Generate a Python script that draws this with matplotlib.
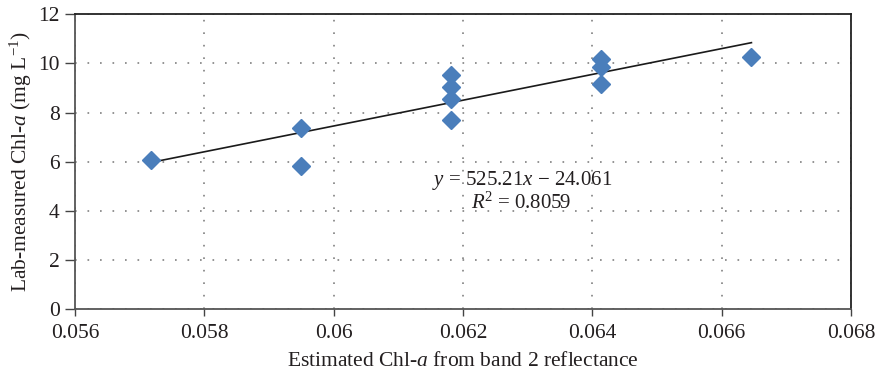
import matplotlib
matplotlib.use("Agg")
import matplotlib.pyplot as plt
import numpy as np

plt.rcParams['font.family'] = ['Liberation Serif', 'DejaVu Serif']
plt.rcParams['mathtext.fontset'] = 'custom'
plt.rcParams['mathtext.rm'] = 'Liberation Serif'
plt.rcParams['mathtext.it'] = 'Liberation Serif:italic'

# Estimated Chl-a (band 2 reflectance) vs lab-measured Chl-a
estimated = [0.05717, 0.05950, 0.05950, 0.06182, 0.06182, 0.06182, 0.06182,
             0.06413, 0.06413, 0.06413, 0.06646]
measured = [6.06, 7.37, 5.84, 9.54, 9.04, 8.55, 7.71, 10.19, 9.85, 9.16, 10.28]

slope = 525.21
intercept = -24.061
r_squared = 0.8059

xticks = [0.056, 0.058, 0.06, 0.062, 0.064, 0.066, 0.068]
xticklabels = ["0.056", "0.058", "0.06", "0.062", "0.064", "0.066", "0.068"]
yticks = [0, 2, 4, 6, 8, 10, 12]

fig = plt.figure(figsize=(8.75, 3.75), dpi=100)
ax = fig.add_axes([0.0857, 0.176, 0.8869, 0.7859])

ax.grid(True, linestyle=(0, (1, 6.5)), color='#808080', linewidth=1.2)
ax.set_axisbelow(True)

xs = np.array([min(estimated), max(estimated)])
ax.plot(xs, slope * xs + intercept, color='#1a1a1a', linewidth=1.2, zorder=2)
ax.plot(estimated, measured, linestyle='none', marker='D', markersize=9,
        color='#4A7EBB', markeredgecolor='#4A7EBB', zorder=3)

ax.set_xlim(0.056, 0.068)
ax.set_ylim(0, 12)
ax.set_xticks(xticks)
ax.set_xticklabels(xticklabels)
ax.set_yticks(yticks)
ax.tick_params(axis='both', direction='out', width=1, colors='#444444',
               labelsize=15.5, labelcolor='#231f20')
ax.tick_params(axis='x', length=5, pad=6)
ax.tick_params(axis='y', length=7, pad=4)
for name, sp in ax.spines.items():
    sp.set_color('#555555' if name in ('left', 'bottom') else '#222222')
    sp.set_linewidth(1.3)

ax.set_xlabel(r"Estimated Chl-$\it{a}$ from band 2 reflectance", fontsize=15.5,
              color='#231f20', labelpad=6)
ax.set_ylabel(r"Lab-measured Chl-$\it{a}$ (mg L$^{-1}$)", fontsize=15.5,
              color='#231f20', labelpad=3)

ax.text(0.06291, 5.25, r"$\it{y}$ = 525.21$\it{x}$ − 24.061", fontsize=15,
        ha='center', va='center', color='#231f20')
ax.text(0.06290, 4.32, r"$\it{R}$$^{2}$ = 0.8059", fontsize=15,
        ha='center', va='center', color='#231f20')

fig.savefig("out.png", dpi=100)
